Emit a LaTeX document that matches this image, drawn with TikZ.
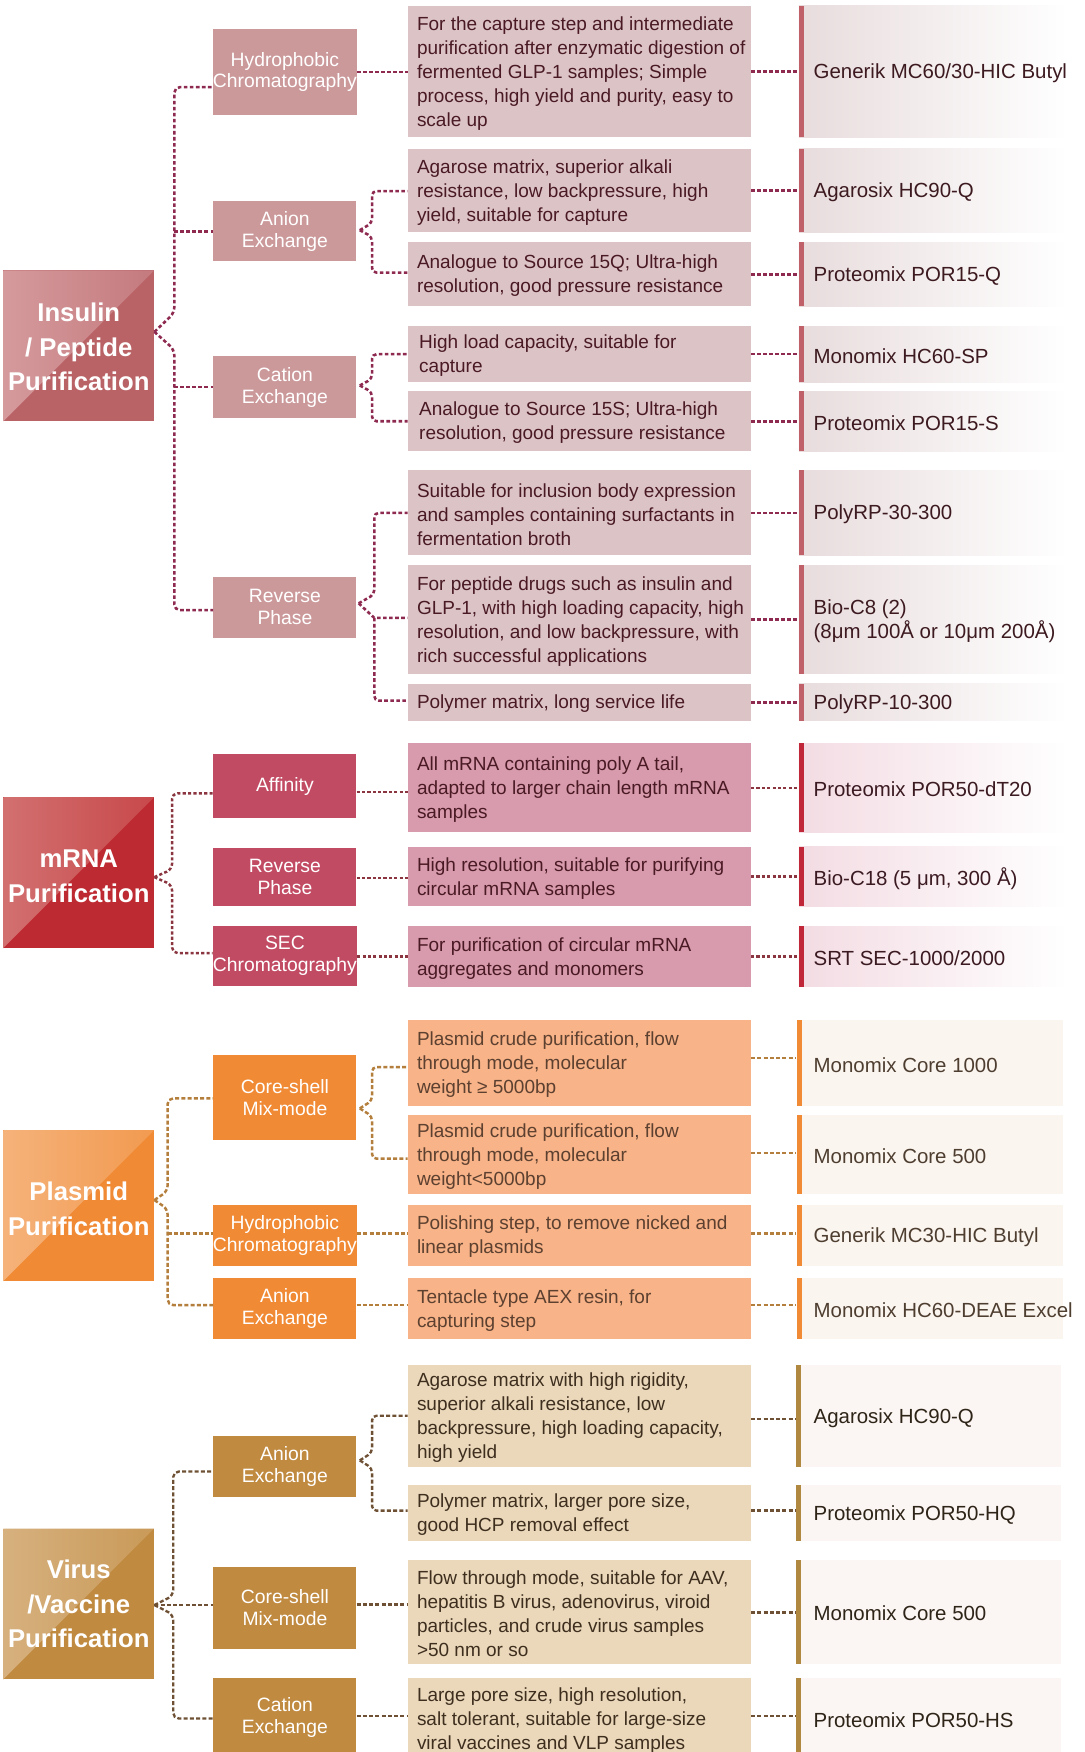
\documentclass[tikz,border=0pt]{standalone}
\usepackage{fontspec}
\setmainfont{Liberation Sans}
% insulin colours
\definecolor{iDark}{HTML}{B96366}
\definecolor{iLight}{HTML}{D59A9C}
\definecolor{iMid}{HTML}{C47A7E}
\definecolor{iSub}{HTML}{CC999B}
\definecolor{iDesc}{HTML}{DCC3C6}
\definecolor{iText}{HTML}{4A1A24}
\definecolor{iBar}{HTML}{C06068}
\definecolor{iProd}{HTML}{E8DCDD}
\definecolor{iPText}{HTML}{3C1A20}
\definecolor{iLine}{HTML}{8E2A50}
% mRNA colours
\definecolor{mDark}{HTML}{BE2A31}
\definecolor{mLight}{HTML}{D27070}
\definecolor{mMid}{HTML}{C8484A}
\definecolor{mSub}{HTML}{C24B64}
\definecolor{mDesc}{HTML}{D89BAD}
\definecolor{mText}{HTML}{4A1A24}
\definecolor{mBar}{HTML}{C0283A}
\definecolor{mProd}{HTML}{F3DCE3}
\definecolor{mPText}{HTML}{3C1A22}
\definecolor{mLine}{HTML}{8A3540}
% plasmid colours
\definecolor{pDark}{HTML}{F08A35}
\definecolor{pLight}{HTML}{F5B27A}
\definecolor{pMid}{HTML}{F29A50}
\definecolor{pSub}{HTML}{F08A35}
\definecolor{pDesc}{HTML}{F8B388}
\definecolor{pText}{HTML}{5C4030}
\definecolor{pBar}{HTML}{F08A35}
\definecolor{pProd}{HTML}{FBF5F0}
\definecolor{pPText}{HTML}{4E3E30}
\definecolor{pLine}{HTML}{B47E3C}
% virus colours
\definecolor{vDark}{HTML}{C08A40}
\definecolor{vLight}{HTML}{D6B07E}
\definecolor{vMid}{HTML}{C99A58}
\definecolor{vSub}{HTML}{C08A40}
\definecolor{vDesc}{HTML}{EBD8BB}
\definecolor{vText}{HTML}{3E2E1E}
\definecolor{vBar}{HTML}{B08840}
\definecolor{vProd}{HTML}{FBF6F3}
\definecolor{vPText}{HTML}{2E2418}
\definecolor{vLine}{HTML}{6E5034}
\tikzset{
  mainbox/.style n args={3}{minimum width=135pt, minimum height=135pt, inner sep=0pt,
    align=center, text=white, fill=#1,
    font=\fontsize{23}{31}\selectfont\bfseries,
    path picture={\shade[left color=#2, right color=#3]
      (path picture bounding box.south west) -- (path picture bounding box.north west)
      -- (path picture bounding box.north east) -- cycle;}},
  subbox/.style={minimum width=128pt, inner sep=0pt, align=center, text=white,
    font=\fontsize{17.3}{19.5}\selectfont},
  descbox/.style={minimum width=307pt, inner sep=0pt},
  dtext/.style={anchor=west, align=left, inner sep=0pt, yshift=-1.5pt,
    font=\fontsize{17}{21.5}\selectfont},
  ptext/.style={anchor=west, align=left, inner sep=0pt, yshift=-1.5pt,
    font=\fontsize{18.3}{22}\selectfont},
  prodbox/.style n args={2}{minimum width=240pt, inner sep=0pt,
    left color=#2, right color=white,
    path picture={\fill[#1] (path picture bounding box.south west) rectangle
      ([xshift=4.5pt]path picture bounding box.north west);}},
  prodflat/.style n args={2}{minimum width=238pt, inner sep=0pt, fill=#2,
    path picture={\fill[#1] (path picture bounding box.south west) rectangle
      ([xshift=4.5pt]path picture bounding box.north west);}},
  iconn/.style={draw=iLine, line width=2.3pt, dash pattern=on 3.2pt off 2.2pt},
  mconn/.style={draw=mLine, line width=2.2pt, dash pattern=on 2.8pt off 2pt},
  pconn/.style={draw=pLine, line width=2.2pt, dash pattern=on 3.6pt off 2pt},
  vconn/.style={draw=vLine, line width=2.1pt, dash pattern=on 3.6pt off 2pt},
}
\begin{document}
\begin{tikzpicture}[x=1pt, y=-1pt]
\useasboundingbox (0,0) rectangle (971,1568);
\clip (0,0) rectangle (971,1568);
\fill[white] (0,0) rectangle (971,1568);

%================ INSULIN =================
\node[mainbox={iDark}{iLight}{iMid}] (iM) at (70.5,309.5) {\\[-12pt]Insulin\\/ Peptide\\Purification};

\node[subbox, fill=iSub, minimum height=77pt] (iS1) at (255,64.5) {Hydrophobic\\Chromatography};
\node[subbox, fill=iSub, minimum height=54pt] (iS2) at (255,207) {Anion\\Exchange};
\node[subbox, fill=iSub, minimum height=55pt] (iS3) at (255,346.5) {Cation\\Exchange};
\node[subbox, fill=iSub, minimum height=55pt] (iS4) at (255,543.5) {Reverse\\Phase};

\node[descbox, fill=iDesc, minimum height=118pt] (iD1) at (518.5,64) {};
\node[descbox, fill=iDesc, minimum height=75pt] (iD2) at (518.5,170.5) {};
\node[descbox, fill=iDesc, minimum height=57pt] (iD3) at (518.5,245.5) {};
\node[descbox, fill=iDesc, minimum height=50pt] (iD4) at (518.5,317) {};
\node[descbox, fill=iDesc, minimum height=54pt] (iD5) at (518.5,377) {};
\node[descbox, fill=iDesc, minimum height=76pt] (iD6) at (518.5,459) {};
\node[descbox, fill=iDesc, minimum height=97pt] (iD7) at (518.5,554.5) {};
\node[descbox, fill=iDesc, minimum height=33pt] (iD8) at (518.5,628.5) {};
\node[dtext, text=iText] (iD1t) at (373,0 |- iD1.west) {For the capture step and intermediate\\purification after enzymatic digestion of\\fermented GLP-1 samples; Simple\\process, high yield and purity, easy to\\scale up};
\node[dtext, text=iText] (iD2t) at (373,0 |- iD2.west) {Agarose matrix, superior alkali\\resistance, low backpressure, high\\yield, suitable for capture};
\node[dtext, text=iText] (iD3t) at (373,0 |- iD3.west) {Analogue to Source 15Q; Ultra-high\\resolution, good pressure resistance};
\node[dtext, text=iText] (iD4t) at (375,0 |- iD4.west) {High load capacity, suitable for\\capture};
\node[dtext, text=iText] (iD5t) at (375,0 |- iD5.west) {Analogue to Source 15S; Ultra-high\\resolution, good pressure resistance};
\node[dtext, text=iText] (iD6t) at (373,0 |- iD6.west) {Suitable for inclusion body expression\\and samples containing surfactants in\\fermentation broth};
\node[dtext, text=iText] (iD7t) at (373,0 |- iD7.west) {For peptide drugs such as insulin and\\GLP-1, with high loading capacity, high\\resolution, and low backpressure, with\\rich successful applications};
\node[dtext, text=iText] (iD8t) at (373,0 |- iD8.west) {Polymer matrix, long service life};

\node[prodbox={iBar}{iProd}, minimum height=118pt] (iP1) at (835,64) {};
\node[prodbox={iBar}{iProd}, minimum height=75pt] (iP2) at (835,170.5) {};
\node[prodbox={iBar}{iProd}, minimum height=57pt] (iP3) at (835,245.5) {};
\node[prodbox={iBar}{iProd}, minimum height=50pt] (iP4) at (835,317) {};
\node[prodbox={iBar}{iProd}, minimum height=54pt] (iP5) at (835,377) {};
\node[prodbox={iBar}{iProd}, minimum height=76pt] (iP6) at (835,459) {};
\node[prodbox={iBar}{iProd}, minimum height=97pt] (iP7) at (835,554.5) {};
\node[prodbox={iBar}{iProd}, minimum height=33pt] (iP8) at (835,628.5) {};
\node[ptext, text=iPText] (iP1t) at (728,0 |- iP1.west) {Generik MC60/30-HIC Butyl};
\node[ptext, text=iPText] (iP2t) at (728,0 |- iP2.west) {Agarosix HC90-Q};
\node[ptext, text=iPText] (iP3t) at (728,0 |- iP3.west) {Proteomix POR15-Q};
\node[ptext, text=iPText] (iP4t) at (728,0 |- iP4.west) {Monomix HC60-SP};
\node[ptext, text=iPText] (iP5t) at (728,0 |- iP5.west) {Proteomix POR15-S};
\node[ptext, text=iPText] (iP6t) at (728,0 |- iP6.west) {PolyRP-30-300};
\node[ptext, text=iPText] (iP7t) at (728,0 |- iP7.west) {Bio-C8 (2)\\(8μm 100Å or 10μm 200Å)};
\node[ptext, text=iPText] (iP8t) at (728,0 |- iP8.west) {PolyRP-10-300};

\coordinate (iTip) at (iM.east |- 0,297);
\coordinate (iT2) at (156,207);
\coordinate (iT3) at (156,346.5);
\draw[iconn, rounded corners=5pt] (iTip) -- (156,280) |- (iS1.west |- 0,78);
\draw[iconn, rounded corners=5pt] (iTip) -- (156,313) |- (iS4.west |- 0,546);
\draw[iconn] (iT2) -- (iS2.west);
\draw[iconn] (iT3) -- (iS3.west);
\draw[iconn] (iS1.east) -- (iS1.east -| iD1.west);
% anion brace
\coordinate (iS2t) at (322,206);
\draw[iconn, rounded corners=4pt] (iS2t) -- (333,199.5) |- (iD2.west |- 0,171);
\draw[iconn, rounded corners=4pt] (iS2t) -- (333,212) |- (iD3.west |- 0,244);
% cation brace
\coordinate (iS3t) at (322,345);
\draw[iconn, rounded corners=4pt] (iS3t) -- (333,339) |- (iD4.west |- 0,317);
\draw[iconn, rounded corners=4pt] (iS3t) -- (333,351) |- (iD5.west |- 0,377);
% reverse brace
\coordinate (iS4t) at (321,540);
\coordinate (iS4j) at (335,553);
\draw[iconn, rounded corners=4pt] (iS4t) -- (335,532) |- (iD6.west |- 0,459);
\draw[iconn] (iS4t) -- (iS4j) -- (iD7.west |- iS4j);
\draw[iconn, rounded corners=4pt] (iS4j) |- (iD8.west |- 0,627);
% desc to products
\foreach \n in {1,...,8}{\draw[iconn] (iD\n.east) -- (iD\n.east -| iP\n.west);}

%================ mRNA =================
\node[mainbox={mDark}{mLight}{mMid}] (mM) at (70.5,781) {\\[-9pt]mRNA\\Purification};

\node[subbox, fill=mSub, minimum height=57pt] (mS1) at (255,703.5) {Affinity};
\node[subbox, fill=mSub, minimum height=52pt] (mS2) at (255,785) {Reverse\\Phase};
\node[subbox, fill=mSub, minimum height=53pt] (mS3) at (255,855.5) {SEC\\Chromatography};

\node[descbox, fill=mDesc, minimum height=80pt] (mD1) at (518.5,705) {};
\node[descbox, fill=mDesc, minimum height=53pt] (mD2) at (518.5,784.5) {};
\node[descbox, fill=mDesc, minimum height=54pt] (mD3) at (518.5,856) {};
\node[dtext, text=mText] (mD1t) at (373,0 |- mD1.west) {All mRNA containing poly A tail,\\adapted to larger chain length mRNA\\samples};
\node[dtext, text=mText] (mD2t) at (373,0 |- mD2.west) {High resolution, suitable for purifying\\circular mRNA samples};
\node[dtext, text=mText] (mD3t) at (373,0 |- mD3.west) {For purification of circular mRNA\\aggregates and monomers};

\node[prodbox={mBar}{mProd}, minimum height=80pt] (mP1) at (835,705) {};
\node[prodbox={mBar}{mProd}, minimum height=53pt] (mP2) at (835,784.5) {};
\node[prodbox={mBar}{mProd}, minimum height=54pt] (mP3) at (835,856) {};
\node[ptext, text=mPText] (mP1t) at (728,0 |- mP1.west) {Proteomix POR50-dT20};
\node[ptext, text=mPText] (mP2t) at (728,0 |- mP2.west) {Bio-C18 (5 μm, 300 Å)};
\node[ptext, text=mPText] (mP3t) at (728,0 |- mP3.west) {SRT SEC-1000/2000};

\coordinate (mTip) at (mM.east |- 0,785);
\draw[mconn, rounded corners=5pt] (mTip) -- (154,778) |- (mS1.west |- 0,710);
\draw[mconn, rounded corners=5pt] (mTip) -- (154,792) |- (mS3.west |- 0,853);
\draw[mconn] (mS1.east |- 0,709) -- (mD1.west |- 0,709);
\draw[mconn] (mS2.east |- 0,786) -- (mD2.west |- 0,786);
\draw[mconn] (mS3.east |- 0,856) -- (mD3.west |- 0,856);
\foreach \n in {1,2,3}{\draw[mconn] (mD\n.east) -- (mD\n.east -| mP\n.west);}

%================ PLASMID =================
\node[mainbox={pDark}{pLight}{pMid}] (pM) at (70.5,1079) {\\[-9pt]Plasmid\\Purification};

\node[subbox, fill=pSub, minimum height=76pt] (pS1) at (255,982) {Core-shell\\Mix-mode};
\node[subbox, fill=pSub, minimum height=55pt] (pS2) at (255,1105.5) {Hydrophobic\\Chromatography};
\node[subbox, fill=pSub, minimum height=54pt] (pS3) at (255,1171) {Anion\\Exchange};

\node[descbox, fill=pDesc, minimum height=77pt] (pD1) at (518.5,951.5) {};
\node[descbox, fill=pDesc, minimum height=71pt] (pD2) at (518.5,1033.5) {};
\node[descbox, fill=pDesc, minimum height=55pt] (pD3) at (518.5,1105.5) {};
\node[descbox, fill=pDesc, minimum height=54pt] (pD4) at (518.5,1171) {};
\node[dtext, text=pText] (pD1t) at (373,0 |- pD1.west) {Plasmid crude purification, flow\\through mode, molecular\\weight ≥ 5000bp};
\node[dtext, text=pText] (pD2t) at (373,0 |- pD2.west) {Plasmid crude purification, flow\\through mode, molecular\\weight<5000bp};
\node[dtext, text=pText] (pD3t) at (373,0 |- pD3.west) {Polishing step, to remove nicked and\\linear plasmids};
\node[dtext, text=pText] (pD4t) at (373,0 |- pD4.west) {Tentacle type AEX resin, for\\capturing step};

\node[prodflat={pBar}{pProd}, minimum height=77pt] (pP1) at (832,951.5) {};
\node[prodflat={pBar}{pProd}, minimum height=71pt] (pP2) at (832,1033.5) {};
\node[prodflat={pBar}{pProd}, minimum height=55pt] (pP3) at (832,1105.5) {};
\node[prodflat={pBar}{pProd}, minimum height=54pt] (pP4) at (832,1171) {};
\node[ptext, text=pPText] (pP1t) at (728,0 |- pP1.west) {Monomix Core 1000};
\node[ptext, text=pPText] (pP2t) at (728,0 |- pP2.west) {Monomix Core 500};
\node[ptext, text=pPText] (pP3t) at (728,0 |- pP3.west) {Generik MC30-HIC Butyl};
\node[ptext, text=pPText] (pP4t) at (728,0 |- pP4.west) {Monomix HC60-DEAE Excel};

\coordinate (pTip) at (pM.east |- 0,1074);
\coordinate (pT2) at (150,1104);
\draw[pconn, rounded corners=5pt] (pTip) -- (150,1066) |- (pS1.west |- 0,983);
\draw[pconn, rounded corners=5pt] (pTip) -- (150,1082) |- (pS3.west |- 0,1168);
\draw[pconn] (pT2) -- (pS2.west |- pT2);
\coordinate (pS1t) at (322,992);
\draw[pconn, rounded corners=4pt] (pS1t) -- (333,985) |- (pD1.west |- 0,955);
\draw[pconn, rounded corners=4pt] (pS1t) -- (333,999) |- (pD2.west |- 0,1037);
\draw[pconn] (pS2.east |- 0,1104) -- (pD3.west |- 0,1104);
\draw[pconn] (pS3.east |- 0,1168) -- (pD4.west |- 0,1168);
\draw[pconn] (pD1.east |- 0,947) -- (pP1.west |- 0,947);
\draw[pconn] (pD2.east |- 0,1032) -- (pP2.west |- 0,1032);
\draw[pconn] (pD3.east |- 0,1104) -- (pP3.west |- 0,1104);
\draw[pconn] (pD4.east |- 0,1168) -- (pP4.west |- 0,1168);

%================ VIRUS =================
\node[mainbox={vDark}{vLight}{vMid}] (vM) at (70.5,1435.5) {Virus\\/Vaccine\\Purification};

\node[subbox, fill=vSub, minimum height=55pt] (vS1) at (255,1312.5) {Anion\\Exchange};
\node[subbox, fill=vSub, minimum height=74pt] (vS2) at (255,1439) {Core-shell\\Mix-mode};
\node[subbox, fill=vSub, minimum height=70pt] (vS3) at (255,1537) {Cation\\Exchange};

\node[descbox, fill=vDesc, minimum height=91pt] (vD1) at (518.5,1267.5) {};
\node[descbox, fill=vDesc, minimum height=50pt] (vD2) at (518.5,1354) {};
\node[descbox, fill=vDesc, minimum height=93pt] (vD3) at (518.5,1442.5) {};
\node[descbox, fill=vDesc, minimum height=72pt] (vD4) at (518.5,1538) {};
\node[dtext, text=vText] (vD1t) at (373,0 |- vD1.west) {Agarose matrix with high rigidity,\\superior alkali resistance, low\\backpressure, high loading capacity,\\high yield};
\node[dtext, text=vText] (vD2t) at (373,0 |- vD2.west) {Polymer matrix, larger pore size,\\good HCP removal effect};
\node[dtext, text=vText] (vD3t) at (373,0 |- vD3.west) {Flow through mode, suitable for AAV,\\hepatitis B virus, adenovirus, viroid\\particles, and crude virus samples\\>50 nm or so};
\node[dtext, text=vText] (vD4t) at (373,0 |- vD4.west) {Large pore size, high resolution,\\salt tolerant, suitable for large-size\\viral vaccines and VLP samples};

\node[prodflat={vBar}{vProd}, minimum height=91pt] (vP1) at (831,1267.5) {};
\node[prodflat={vBar}{vProd}, minimum height=50pt] (vP2) at (831,1354) {};
\node[prodflat={vBar}{vProd}, minimum height=93pt] (vP3) at (831,1442.5) {};
\node[prodflat={vBar}{vProd}, minimum height=72pt] (vP4) at (831,1538) {};
\node[ptext, text=vPText] (vP1t) at (728,0 |- vP1.west) {Agarosix HC90-Q};
\node[ptext, text=vPText] (vP2t) at (728,0 |- vP2.west) {Proteomix POR50-HQ};
\node[ptext, text=vPText] (vP3t) at (728,0 |- vP3.west) {Monomix Core 500};
\node[ptext, text=vPText] (vP4t) at (728,0 |- vP4.west) {Proteomix POR50-HS};

\coordinate (vTip) at (vM.east |- 0,1436.5);
\draw[vconn, rounded corners=5pt] (vTip) -- (155,1428) |- (vS1.west |- 0,1317);
\draw[vconn, rounded corners=5pt] (vTip) -- (155,1445) |- (vS3.west |- 0,1538);
\draw[vconn] (vTip) -- (vS2.west |- vTip);
\coordinate (vS1t) at (322,1307);
\draw[vconn, rounded corners=4pt] (vS1t) -- (333,1300) |- (vD1.west |- 0,1267);
\draw[vconn, rounded corners=4pt] (vS1t) -- (333,1314) |- (vD2.west |- 0,1352);
\draw[vconn] (vS2.east |- 0,1436) -- (vD3.west |- 0,1436);
\draw[vconn] (vS3.east |- 0,1536) -- (vD4.west |- 0,1536);
\draw[vconn] (vD1.east |- 0,1270) -- (vP1.west |- 0,1270);
\draw[vconn] (vD2.east |- 0,1352) -- (vP2.west |- 0,1352);
\draw[vconn] (vD3.east |- 0,1443) -- (vP3.west |- 0,1443);
\draw[vconn] (vD4.east |- 0,1536) -- (vP4.west |- 0,1536);
\end{tikzpicture}
\end{document}
